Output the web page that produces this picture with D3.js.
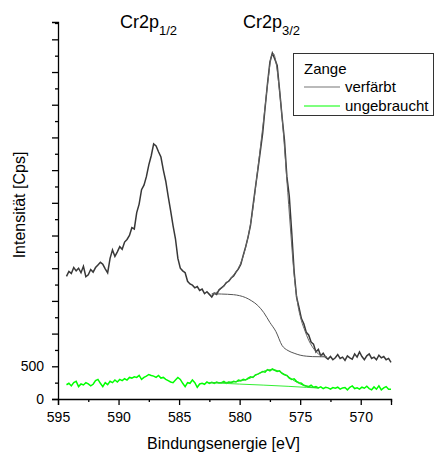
<!DOCTYPE html>
<html>
<head>
<meta charset="utf-8">
<script src="https://cdnjs.cloudflare.com/ajax/libs/d3/7.8.5/d3.min.js"></script>
<style>
  body { margin: 0; background: #fff; }
  text { font-family: "Liberation Sans", Arial, sans-serif; fill: #000; }
</style>
</head>
<body>
<div id="chart"></div>
<script>
// XPS Cr2p spectrum, Zange verfärbt vs. ungebraucht
// values: [Bindungsenergie eV, Intensität Cps]

var verfaerbt = [
  [594.3,1875],[594.1,1950],[593.9,1920],[593.7,2010],[593.5,1960],[593.3,2000],[593.1,1930],[592.9,2030],
  [592.7,1870],[592.5,1900],[592.3,1980],[592.1,1940],[591.9,2010],[591.7,2050],[591.5,2090],[591.3,2060],
  [591.1,1990],[590.9,1930],[590.7,2150],[590.5,2280],[590.3,2180],[590.1,2250],[589.9,2330],[589.7,2290],
  [589.5,2400],[589.3,2440],[589.1,2500],[588.9,2620],[588.7,2600],[588.5,2850],[588.3,2980],[588.1,3200],
  [587.9,3270],[587.7,3400],[587.5,3580],[587.3,3720],[587.1,3900],[586.9,3870],[586.7,3780],[586.5,3700],
  [586.3,3500],[586.1,3330],[585.9,3100],[585.7,2880],[585.5,2650],[585.3,2450],[585.1,2150],[584.9,2000],
  [584.7,1960],[584.5,1930],[584.3,1800],[584.1,1760],[583.9,1740],[583.7,1700],[583.5,1720],[583.3,1660],
  [583.1,1680],[582.9,1610],[582.7,1640],[582.5,1600],[582.3,1560],[582.1,1620],[581.9,1600],[581.7,1670],
  [581.5,1700],[581.3,1730],[581.1,1780],[580.9,1800],[580.7,1850],[580.5,1880],[580.3,1940],[580.1,1990],
  [579.9,2060],[579.7,2200],[579.5,2330],[579.3,2480],[579.1,2660],[578.9,2950],[578.7,3230],[578.5,3500],
  [578.3,3780],[578.1,4060],[577.9,4450],[577.7,4820],[577.5,5150],[577.3,5290],[577.1,5200],[576.9,5100],
  [576.7,4720],[576.5,4320],[576.3,3960],[576.1,3400],[575.9,3100],[575.7,2550],[575.5,1950],[575.3,1560],
  [575.1,1400],[574.9,1230],[574.7,1150],[574.5,1020],[574.3,980],[574.1,870],[573.9,840],[573.7,720],
  [573.5,760],[573.3,660],[573.1,700],[572.9,640],[572.7,610],[572.5,650],[572.3,600],[572.1,630],
  [571.9,680],[571.7,620],[571.5,640],[571.3,590],[571.1,660],[570.9,630],[570.7,610],[570.5,690],
  [570.3,640],[570.1,720],[569.9,650],[569.7,600],[569.5,660],[569.3,690],[569.1,620],[568.9,640],
  [568.7,600],[568.5,670],[568.3,630],[568.1,650],[567.9,600],[567.7,620],[567.5,560]
];

var verfaerbtFit = [
  [582.3,1600],[582.0,1620],[581.5,1690],[581.0,1790],[580.5,1900],[580.0,2040],[579.5,2320],[579.0,2790],
  [578.5,3520],[578.0,4300],[577.6,4960],[577.4,5230],[577.2,5280],[577.0,5150],[576.7,4700],[576.4,4100],
  [576.1,3350],[575.8,2600],[575.5,1900],[575.2,1450],[574.9,1200],[574.6,1040],[574.3,900],[574.0,800],
  [573.5,690],[573.0,648],[572.8,642]
];

var verfaerbtBackground = [
  [582.3,1610],[581.5,1605],[580.5,1595],[580.0,1580],[579.5,1550],[579.0,1500],[578.5,1430],[578.0,1320],
  [577.5,1170],[577.0,1030],[576.5,820],[576.0,740],[575.5,700],[575.0,670],[574.5,655],[574.0,648],
  [573.0,645],[572.8,644]
];

var ungebraucht = [
  [594.3,218],[594.1,240],[593.9,200],[593.7,250],[593.5,270],[593.3,190],[593.1,230],[592.9,215],
  [592.7,250],[592.5,230],[592.3,200],[592.1,225],[591.9,280],[591.7,300],[591.5,240],[591.3,190],
  [591.1,250],[590.9,220],[590.7,270],[590.5,250],[590.3,290],[590.1,260],[589.9,300],[589.7,280],
  [589.5,310],[589.3,290],[589.1,330],[588.9,320],[588.7,340],[588.5,330],[588.3,360],[588.1,300],
  [587.9,330],[587.7,350],[587.5,375],[587.3,360],[587.1,350],[586.9,330],[586.7,360],[586.5,320],
  [586.3,330],[586.1,300],[585.9,280],[585.7,260],[585.5,250],[585.3,290],[585.1,330],[584.9,300],
  [584.7,240],[584.5,190],[584.3,250],[584.1,240],[583.9,290],[583.7,250],[583.5,180],[583.3,230],
  [583.1,240],[582.9,225],[582.7,260],[582.5,240],[582.3,255],[582.1,240],[581.9,260],[581.7,245],
  [581.5,250],[581.3,270],[581.1,240],[580.9,260],[580.7,250],[580.5,270],[580.3,260],[580.1,290],
  [579.9,280],[579.7,300],[579.5,290],[579.3,320],[579.1,340],[578.9,330],[578.7,370],[578.5,380],
  [578.3,400],[578.1,420],[577.9,410],[577.7,450],[577.5,430],[577.3,460],[577.1,440],[576.9,420],
  [576.7,430],[576.5,390],[576.3,370],[576.1,360],[575.9,320],[575.7,300],[575.5,310],[575.3,270],
  [575.1,250],[574.9,240],[574.7,210],[574.5,200],[574.3,190],[574.1,210],[573.9,180],[573.7,190],
  [573.5,170],[573.3,185],[573.1,160],[572.9,180],[572.7,170],[572.5,150],[572.3,175],[572.1,165],
  [571.9,180],[571.7,150],[571.5,170],[571.3,175],[571.1,140],[570.9,180],[570.7,200],[570.5,160],
  [570.3,170],[570.1,150],[569.9,180],[569.7,165],[569.5,195],[569.3,160],[569.1,140],[568.9,185],
  [568.7,150],[568.5,200],[568.3,140],[568.1,170],[567.9,190],[567.7,150],[567.5,150]
];

var ungebrauchtFit = [
  [582.5,250],[581.5,252],[580.5,262],[579.5,295],[579.0,330],[578.5,380],[578.0,425],[577.5,448],
  [577.0,440],[576.5,400],[576.0,345],[575.5,280],[575.0,230],[574.5,195],[574.0,178],[573.5,170]
];

var ungebrauchtBackground = [
  [582.5,250],[580.0,228],[578.0,212],[576.0,194],[574.5,178],[573.5,168]
];

var xMajorTicks = [595, 590, 585, 580, 575, 570];
var xMinorTicks = [592.5, 587.5, 582.5, 577.5, 572.5, 567.5];
var yMajorTicks = [0, 500, 1000, 1500, 2000, 2500, 3000, 3500, 4000, 4500, 5000, 5500];
var yMinorTicks = [250, 750, 1250, 1750, 2250, 2750, 3250, 3750, 4250, 4750, 5250, 5750];
var yTickLabels = { 0: "0", 500: "500" };

var svgWidth = 435;
var svgHeight = 453;

var margin = { top: 22, right: 44, bottom: 54, left: 58 };
var width = svgWidth - margin.left - margin.right;
var height = svgHeight - margin.top - margin.bottom;

var svg = d3.select("#chart")
    .append("svg")
    .attr("width", svgWidth)
    .attr("height", svgHeight);

var chartGroup = svg.append("g")
    .attr("transform", `translate(${margin.left}, ${margin.top})`);

// scales (energy axis runs backwards like in XPS)
var xScale = d3.scaleLinear()
    .domain([595, 567.5])
    .range([0, width]);

var yScale = d3.scaleLinear()
    .domain([0, 5765])
    .range([height, 0]);

// lines
var line = d3.line()
    .x(d => xScale(d[0]))
    .y(d => yScale(d[1]));

var smoothLine = d3.line()
    .x(d => xScale(d[0]))
    .y(d => yScale(d[1]))
    .curve(d3.curveMonotoneX);

chartGroup.append("path")
    .datum(ungebraucht)
    .attr("d", line)
    .attr("fill", "none")
    .attr("stroke", "#00ff00")
    .attr("stroke-width", 1.5);

chartGroup.append("path")
    .datum(ungebrauchtBackground)
    .attr("d", smoothLine)
    .attr("fill", "none")
    .attr("stroke", "#33ee33")
    .attr("stroke-width", 1);

chartGroup.append("path")
    .datum(ungebrauchtFit)
    .attr("d", smoothLine)
    .attr("fill", "none")
    .attr("stroke", "#22dd22")
    .attr("stroke-width", 1);

chartGroup.append("path")
    .datum(verfaerbt)
    .attr("d", line)
    .attr("fill", "none")
    .attr("stroke", "#383838")
    .attr("stroke-width", 1.5);

chartGroup.append("path")
    .datum(verfaerbtBackground)
    .attr("d", smoothLine)
    .attr("fill", "none")
    .attr("stroke", "#555")
    .attr("stroke-width", 1);

chartGroup.append("path")
    .datum(verfaerbtFit)
    .attr("d", smoothLine)
    .attr("fill", "none")
    .attr("stroke", "#666")
    .attr("stroke-width", 1);

// axes: major ticks with labels, minor ticks shorter
var xAxis = chartGroup.append("g")
    .attr("transform", `translate(0, ${height})`)
    .call(d3.axisBottom(xScale).tickValues(xMajorTicks).tickSize(6).tickPadding(7).tickFormat(d3.format("d")));

chartGroup.append("g")
    .attr("transform", `translate(0, ${height})`)
    .call(d3.axisBottom(xScale).tickValues(xMinorTicks).tickSize(3).tickFormat(""))
    .select(".domain").remove();

var yAxis = chartGroup.append("g")
    .call(d3.axisLeft(yScale).tickValues(yMajorTicks).tickSize(6).tickPadding(8)
        .tickFormat(d => yTickLabels[d] || ""));

chartGroup.append("g")
    .call(d3.axisLeft(yScale).tickValues(yMinorTicks).tickSize(3).tickFormat(""))
    .select(".domain").remove();

chartGroup.selectAll(".tick text")
    .style("font-family", "'Liberation Sans', Arial, sans-serif")
    .style("font-size", "14px");

chartGroup.selectAll(".domain, .tick line")
    .attr("stroke", "#000")
    .attr("stroke-width", 1.3);

// axis titles
svg.append("text")
    .attr("x", margin.left + width / 2 - 1)
    .attr("y", 449)
    .attr("text-anchor", "middle")
    .style("font-size", "16px")
    .text("Bindungsenergie [eV]");

svg.append("text")
    .attr("transform", "translate(25, 205) rotate(-90)")
    .attr("text-anchor", "middle")
    .style("font-size", "16px")
    .text("Intensität [Cps]");

// peak labels
var peakLabels = [
  { x: 120, main: "Cr2p", sub: "1/2" },
  { x: 243, main: "Cr2p", sub: "3/2" }
];

peakLabels.forEach(function (p) {
    var t = svg.append("text")
        .attr("x", p.x)
        .attr("y", 28)
        .style("font-size", "18px");
    t.append("tspan").text(p.main);
    t.append("tspan")
        .attr("dy", 7)
        .style("font-size", "13px")
        .text(p.sub);
});

// legend
var legend = svg.append("g");

legend.append("rect")
    .attr("x", 293.5)
    .attr("y", 53.5)
    .attr("width", 140)
    .attr("height", 62)
    .attr("fill", "#fff")
    .attr("stroke", "#333")
    .attr("stroke-width", 1);

legend.append("text")
    .attr("x", 304)
    .attr("y", 74)
    .style("font-size", "15px")
    .text("Zange");

var legendItems = [
  { label: "verfärbt", color: "#777", y: 87 },
  { label: "ungebraucht", color: "#00ff00", y: 106 }
];

legendItems.forEach(function (item) {
    legend.append("line")
        .attr("x1", 304)
        .attr("x2", 340)
        .attr("y1", item.y)
        .attr("y2", item.y)
        .attr("stroke", item.color)
        .attr("stroke-width", 1.2);
    legend.append("text")
        .attr("x", 345)
        .attr("y", item.y + 5)
        .style("font-size", "15px")
        .text(item.label);
});
</script>
</body>
</html>
